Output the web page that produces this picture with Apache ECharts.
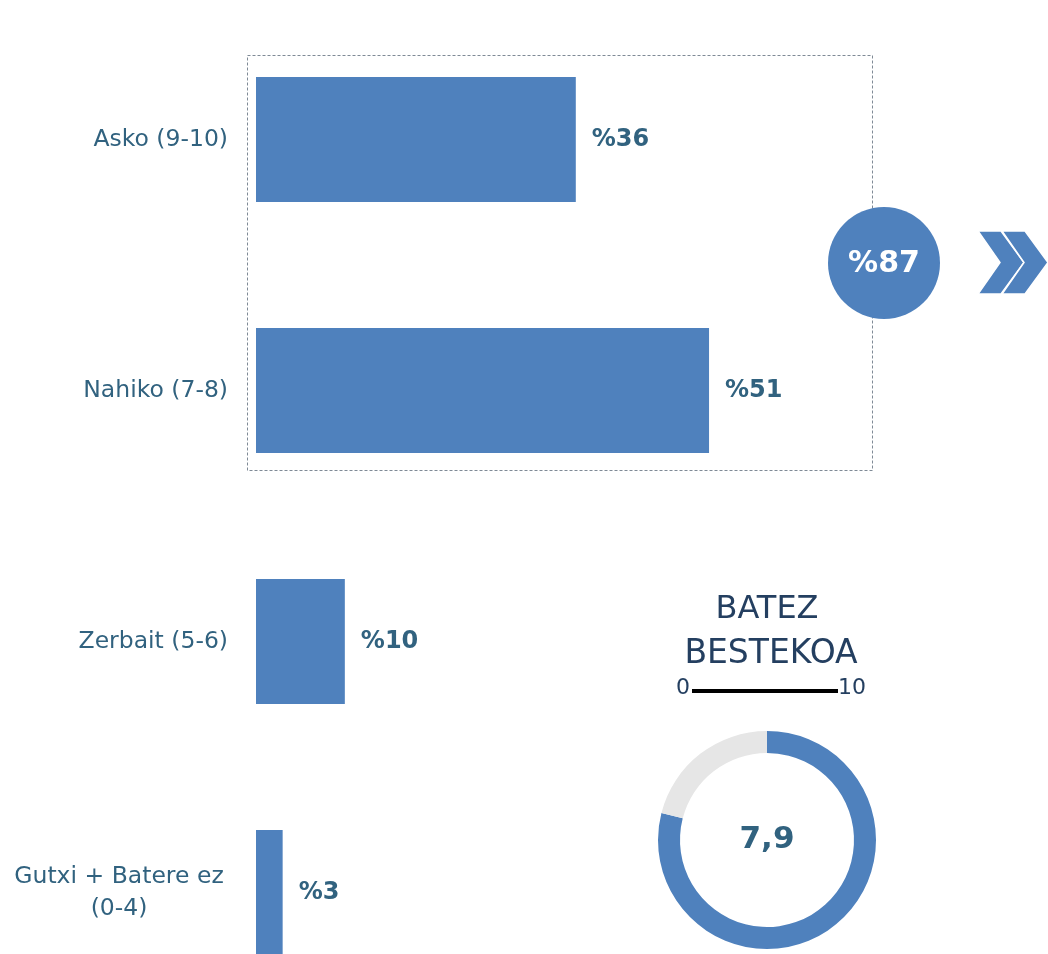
<!DOCTYPE html>
<html lang="en">
<head>
    <meta charset="utf-8">
    <title>Batez bestekoa</title>
    <script src="https://cdn.jsdelivr.net/npm/echarts@6/dist/echarts.min.js"></script>
    <style>
        html, body { margin: 0; padding: 0; background: #fff; }
        #main { width: 1048px; height: 954px; }
    </style>
</head>
<body>
<div id="main"></div>
<script>
    // datuak
    var categories = ['Asko (9-10)', 'Nahiko (7-8)', 'Zerbait (5-6)', 'Gutxi + Batere ez\n(0-4)'];
    var percents = [36, 51, 10, 3];
    var meanValue = 7.9;
    var meanMax = 10;
    var scaleLabels = ['0', '10'];

    var blue = '#4f81bd';
    var textColor = '#31627f';
    var titleColor = '#243f60';
    var font = 'DejaVu Sans';

    var topTwo = percents[0] + percents[1];

    var myChart = echarts.init(document.getElementById('main'));
    var option = {
        animation: false,
        grid: { left: 256, top: 14, width: 533, height: 1004, outerBoundsMode: 'none' },
        xAxis: {
            type: 'value', min: 0, max: 60,
            show: false
        },
        yAxis: {
            type: 'category',
            data: categories,
            inverse: true,
            axisLine: { show: false },
            axisTick: { show: false },
            axisLabel: {
                margin: 28,
                color: textColor,
                fontFamily: font,
                fontSize: 23.5,
                lineHeight: 32,
                formatter: function (v) {
                    if (v.indexOf('\n') >= 0) {
                        return v.split('\n').map(function (s) { return '{c|' + s + '}'; }).join('\n');
                    }
                    return v;
                },
                rich: {
                    c: { width: 218, align: 'center', color: textColor, fontFamily: font, fontSize: 23.5, lineHeight: 32 }
                }
            }
        },
        series: [{
            type: 'bar',
            data: percents,
            barWidth: 125,
            itemStyle: { color: blue },
            label: {
                show: true,
                position: 'right',
                distance: 16,
                color: textColor,
                fontFamily: font,
                fontWeight: 'bold',
                fontSize: 24,
                formatter: function (p) { return '%' + p.value; }
            }
        }, {
            type: 'pie',
            center: [767, 840],
            radius: [87, 109],
            startAngle: 90,
            clockwise: true,
            silent: true,
            labelLine: { show: false },
            data: [{
                value: meanValue,
                itemStyle: { color: blue },
                label: {
                    show: true,
                    position: 'center',
                    color: textColor,
                    fontFamily: font,
                    fontWeight: 'bold',
                    fontSize: 31,
                    formatter: function (p) { return String(p.value).replace('.', ','); }
                }
            }, {
                value: meanMax - meanValue,
                itemStyle: { color: '#e6e6e6' },
                label: { show: false }
            }]
        }],
        graphic: [{
            type: 'rect',
            shape: { x: 247.5, y: 55.5, width: 625, height: 415 },
            style: { fill: 'none', stroke: '#7f8a96', lineWidth: 1, lineDash: [3, 2] },
            z: 1
        }, {
            type: 'circle',
            shape: { cx: 884, cy: 263, r: 56 },
            style: { fill: blue },
            z: 100
        }, {
            type: 'text',
            x: 884, y: 264,
            style: {
                text: '%' + topTwo,
                fill: '#fff',
                font: 'bold 30px "' + font + '"',
                textAlign: 'center',
                textVerticalAlign: 'middle'
            },
            z: 101
        }, {
            type: 'polygon',
            shape: { points: [[978, 231], [1001, 231], [1024, 262.5], [1001, 294], [978, 294], [1000, 262.5]] },
            style: { fill: blue, stroke: '#fff', lineWidth: 1.5 },
            z: 100
        }, {
            type: 'polygon',
            shape: { points: [[1002, 231], [1025, 231], [1048, 262.5], [1025, 294], [1002, 294], [1024, 262.5]] },
            style: { fill: blue, stroke: '#fff', lineWidth: 1.5 },
            z: 100
        }, {
            type: 'text',
            x: 767, y: 610,
            style: {
                text: 'BATEZ', fill: titleColor, font: '32px "' + font + '"',
                textAlign: 'center', textVerticalAlign: 'middle'
            }
        }, {
            type: 'text',
            x: 771, y: 654,
            style: {
                text: 'BESTEKOA', fill: titleColor, font: '33px "' + font + '"',
                textAlign: 'center', textVerticalAlign: 'middle'
            }
        }, {
            type: 'line',
            shape: { x1: 692, y1: 691, x2: 838, y2: 691 },
            style: { stroke: '#000', lineWidth: 4 }
        }, {
            type: 'text',
            x: 690, y: 688,
            style: {
                text: scaleLabels[0], fill: titleColor, font: '22px "' + font + '"',
                textAlign: 'right', textVerticalAlign: 'middle'
            }
        }, {
            type: 'text',
            x: 838, y: 688,
            style: {
                text: scaleLabels[1], fill: titleColor, font: '22px "' + font + '"',
                textAlign: 'left', textVerticalAlign: 'middle'
            }
        }]
    };
    myChart.setOption(option);
</script>
</body>
</html>
